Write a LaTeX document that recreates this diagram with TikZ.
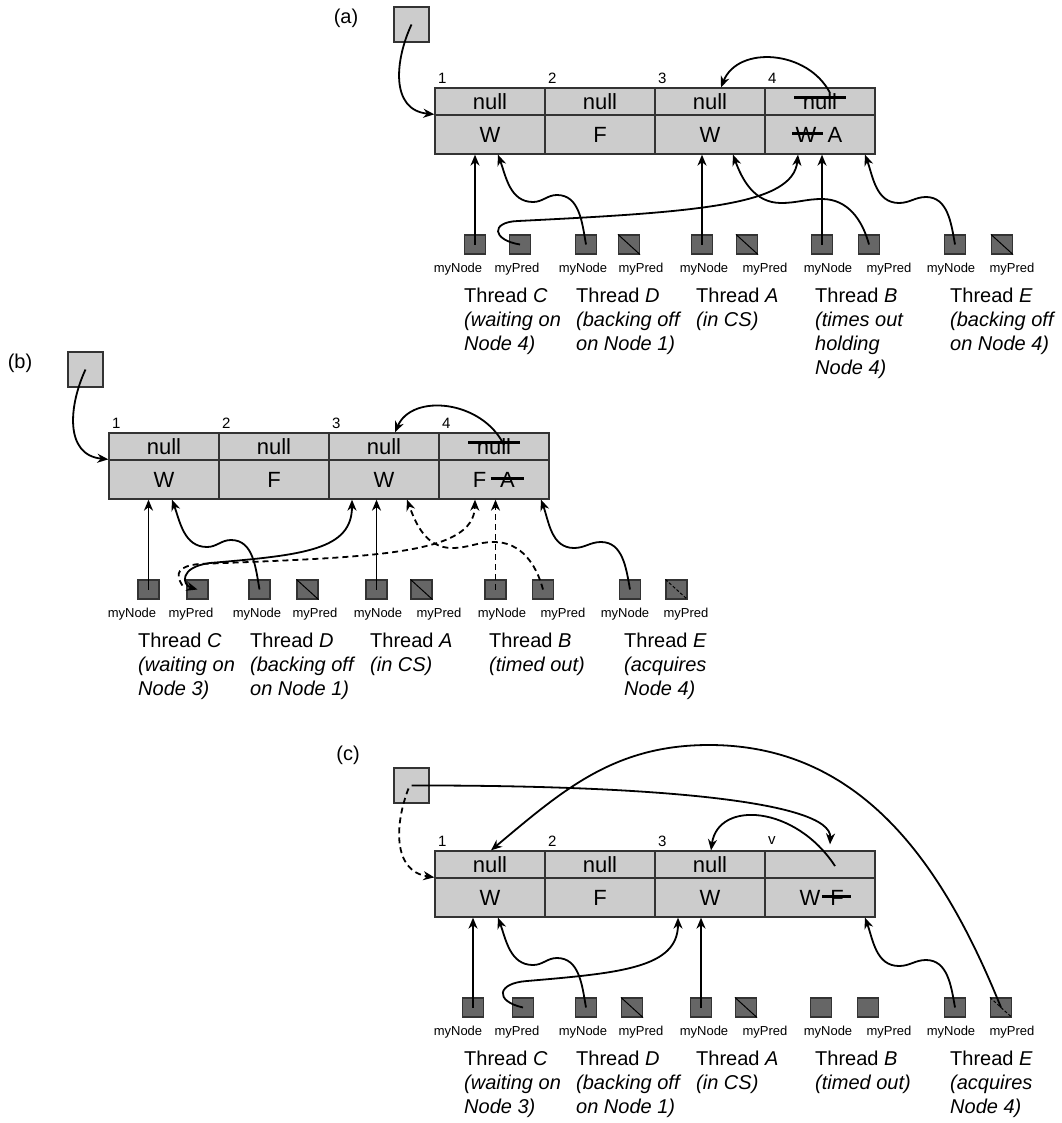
\documentclass[tikz,border=0pt]{standalone}
\usepackage{fontspec}
\setmainfont{Liberation Sans}
\usetikzlibrary{arrows.meta}
\definecolor{cellgray}{HTML}{CCCCCC}
\definecolor{ptrgray}{HTML}{666666}
\definecolor{edgegray}{HTML}{333333}
\begin{document}
\begin{tikzpicture}[x=1pt,y=-1pt,>={Stealth[length=11pt,width=9pt,inset=3.5pt]},
  cell/.style={draw=edgegray,fill=cellgray,line width=1.3pt,minimum width=110pt,inner sep=0pt,font=\fontsize{22}{26}\selectfont},
  celltop/.style={cell,minimum height=27pt},
  cellbot/.style={cell,minimum height=39pt},
  ctext/.style={inner sep=0pt,font=\fontsize{22}{26}\selectfont},
  tailbox/.style={draw=edgegray,fill=cellgray,line width=1.3pt,minimum size=35pt,inner sep=0pt},
  ptr/.style={draw=edgegray,fill=ptrgray,line width=1.1pt,minimum width=21pt,minimum height=19pt,inner sep=0pt},
  idx/.style={anchor=west,inner sep=0pt,font=\fontsize{15}{17}\selectfont},
  fld/.style={inner sep=0pt,font=\fontsize{13}{15}\selectfont},
  thr/.style={anchor=north west,align=left,inner sep=0pt,font=\fontsize{20}{24}\selectfont},
  plbl/.style={inner sep=0pt,font=\fontsize{20}{24}\selectfont},
  link/.style={line width=1.8pt,->},
  dsh/.style={dash pattern=on 6pt off 4pt},
  cross/.style={line width=2.2pt}]
\useasboundingbox (0,0) rectangle (1061,1123);

% (a) B times out
\begin{scope}
\node[plbl] (aL) at (346,18) {(a)};
\node[tailbox] (aT) at (411.5,24.5) {};
\foreach \i/\x/\s in {1/490/W,2/600/F,3/710/W}{
  \node[celltop] (a\i-t) at (\x,101.5) {null};
  \node[cellbot] (a\i-b) at (\x,134.5) {\s};
  \node[idx] (a\i-n) at ({\x-52},78) {\i};
}
\node[celltop] (a4-t) at (820,101.5) {null};
\node[cellbot] (a4-b) at (820,134.5) {};
\node[idx] (a4-n) at (768,78) {4};
\node[ctext] (a4-w) at (806,134.5) {W};
\node[ctext] (a4-s) at (835,134.5) {A};
\draw[cross] ([xshift=-26pt,yshift=4pt]a4-t.center) -- ([xshift=26pt,yshift=4pt]a4-t.center);
\draw[cross] ([xshift=-3pt,yshift=1pt]a4-w.west) -- ([xshift=6pt,yshift=1pt]a4-w.east);
\foreach \n/\x in {Cn/475,Cp/520,Dn/586,Dp/629,An/702,Ap/747,Bn/822,Bp/869,En/955,Ep/1002}
  \node[ptr] (a\n) at (\x,244.5) {};
\foreach \n in {Dp,Ap,Ep}
  \draw[line width=1pt] (a\n.north west) -- (a\n.south east);
\foreach \t/\x in {myNode/458,myPred/517,myNode/583,myPred/641,myNode/704,myPred/765,myNode/828,myPred/889,myNode/951,myPred/1012}
  \node[fld] (a-\t-\x) at (\x,269) {\t};
\node[thr] (aThC) at (464,288) {Thread \textit{C}\\\textit{(waiting on}\\\textit{Node 4)}};
\node[thr] (aThD) at (576,288) {Thread \textit{D}\\\textit{(backing off}\\\textit{on Node 1)}};
\node[thr] (aThA) at (696,288) {Thread \textit{A}\\\textit{(in CS)}};
\node[thr] (aThB) at (815,288) {Thread \textit{B}\\\textit{(times out}\\\textit{holding}\\\textit{Node 4)}};
\node[thr] (aThE) at (950,288) {Thread \textit{E}\\\textit{(backing off}\\\textit{on Node 4)}};
\draw[link] (aT.center) .. controls (395,60) and (390,110) .. (a1-b.north west);
\draw[link] ([xshift=10pt,yshift=8.5pt]a4-t.center) .. controls (808,50) and (738,45) .. ([xshift=11pt]a3-t.north);
\draw[link] (aCn.center) -- (aCn.center |- a1-b.south);
\draw[link] (aDn.center) to[out=100,in=0] (557,195) to[out=180,in=0] (533,202) to[out=180,in=-70] ([xshift=8pt]a1-b.south);
\draw[link] (aCp.center) .. controls (492,240) and (490,222) .. (518,221) .. controls (700,212) and (793,205) .. ([xshift=-22pt]a4-b.south);
\draw[link] (aAn.center) -- (aAn.center |- a3-b.south);
\draw[link] (aBp.center) to[out=105,in=0] (822,199) to[out=180,in=0] (781,203) to[out=180,in=-70] ([xshift=23pt]a3-b.south);
\draw[link] (aBn.center) -- (aBn.center |- a4-b.south);
\draw[link] (aEn.center) to[out=100,in=0] (926,197) to[out=180,in=0] (899,203) to[out=180,in=-70] ([xshift=45pt]a4-b.south);
\end{scope}

% (b) B has timed out
\begin{scope}[shift={(-326,345)}]
\node[plbl] (bL) at (346,18) {(b)};
\node[tailbox] (bT) at (411.5,24.5) {};
\foreach \i/\x/\s in {1/490/W,2/600/F,3/710/W}{
  \node[celltop] (b\i-t) at (\x,101.5) {null};
  \node[cellbot] (b\i-b) at (\x,134.5) {\s};
  \node[idx] (b\i-n) at ({\x-52},78) {\i};
}
\node[celltop] (b4-t) at (820,101.5) {null};
\node[cellbot] (b4-b) at (820,134.5) {};
\node[idx] (b4-n) at (768,78) {4};
\node[ctext] (b4-f) at (805.5,134.5) {F};
\node[ctext] (b4-s) at (833.5,134.5) {A};
\draw[cross] ([xshift=-26pt,yshift=4pt]b4-t.center) -- ([xshift=26pt,yshift=4pt]b4-t.center);
\draw[cross] ([xshift=-9pt,yshift=1pt]b4-s.west) -- ([xshift=9pt,yshift=1pt]b4-s.east);
\foreach \n/\x in {Cn/474.5,Cp/523.5,Dn/585.5,Dp/633.5,An/702.5,Ap/747.5,Bn/821.5,Bp/869,En/956,Ep/1002.5}
  \node[ptr] (b\n) at (\x,244.5) {};
\foreach \n in {Dp,Ap}
  \draw[line width=1pt] (b\n.north west) -- (b\n.south east);
\draw[line width=1pt,dash pattern=on 3pt off 2pt] (bEp.north west) -- (bEp.south east);
\foreach \t/\x in {myNode/458,myPred/517,myNode/583,myPred/641,myNode/704,myPred/765,myNode/828,myPred/889,myNode/951,myPred/1012}
  \node[fld] (b-\t-\x) at (\x,269) {\t};
\node[thr] (bThC) at (464,288) {Thread \textit{C}\\\textit{(waiting on}\\\textit{Node 3)}};
\node[thr] (bThD) at (576,288) {Thread \textit{D}\\\textit{(backing off}\\\textit{on Node 1)}};
\node[thr] (bThA) at (696,288) {Thread \textit{A}\\\textit{(in CS)}};
\node[thr] (bThB) at (815,288) {Thread \textit{B}\\\textit{(timed out)}};
\node[thr] (bThE) at (950,288) {Thread \textit{E}\\\textit{(acquires}\\\textit{Node 4)}};
\draw[link] (bT.center) .. controls (395,60) and (390,110) .. (b1-b.north west);
\draw[link] ([xshift=10pt,yshift=1.5pt]b4-t.center) .. controls (808,55) and (738,48) .. ([xshift=11pt]b3-t.north);
\draw[link] (bCn.center) -- (bCn.center |- b1-b.south);
\draw[link] (bDn.center) to[out=100,in=0] (557,195) to[out=180,in=0] (533,202) to[out=180,in=-70] ([xshift=8pt]b1-b.south);
\draw[line width=1.8pt,<->] (bCp.center) .. controls (508,240) and (505,222) .. (536,218) .. controls (630,210) and (678,205) .. ([xshift=-32pt]b3-b.south);
\draw[link,dsh] ([xshift=-4pt,yshift=4pt]bCp.west) .. controls (500,228) and (505,221) .. (525,219) .. controls (700,212) and (800,210) .. ([xshift=-19pt]b4-b.south);
\draw[link] (bAn.center) -- (bAn.center |- b3-b.south);
\draw[link,dsh] (bBp.center) to[out=105,in=0] (820,197) to[out=180,in=0] (778,203) to[out=180,in=-70] ([xshift=23pt]b3-b.south);
\draw[link,dsh] (bBn.center) -- (bBn.center |- b4-b.south);
\draw[link] (bEn.center) to[out=100,in=0] (927,197) to[out=180,in=0] (900,203) to[out=180,in=-70] ([xshift=47pt]b4-b.south);
\end{scope}

% (c) E acquires Node 4
\begin{scope}[shift={(0,763)}]
\node[plbl] (cL) at (348,-8) {(c)};
\node[tailbox] (cT) at (411.5,22.5) {};
\foreach \i/\x/\s in {1/490/W,2/600/F,3/710/W}{
  \node[celltop] (c\i-t) at (\x,101.5) {null};
  \node[cellbot] (c\i-b) at (\x,134.5) {\s};
  \node[idx] (c\i-n) at ({\x-52},78) {\i};
}
\node[celltop] (c4-t) at (820,101.5) {};
\node[cellbot] (c4-b) at (820,134.5) {};
\node[idx] (c4-n) at (768,78) {v};
\node[ctext] (c4-w) at (810,134.5) {W};
\node[ctext] (c4-f) at (837,134.5) {F};
\draw[cross] ([xshift=-8pt,yshift=1pt]c4-f.west) -- ([xshift=7pt,yshift=1pt]c4-f.east);
\foreach \n/\x in {Cn/473,Cp/523,Dn/586,Dp/632,An/701,Ap/746,Bn/821,Bp/868,En/955,Ep/1001}
  \node[ptr] (c\n) at (\x,244.5) {};
\foreach \n in {Dp,Ap}
  \draw[line width=1pt] (c\n.north west) -- (c\n.south east);
\draw[line width=1pt,dash pattern=on 3pt off 2pt] (cEp.north west) -- (cEp.south east);
\foreach \t/\x in {myNode/458,myPred/517,myNode/583,myPred/641,myNode/704,myPred/765,myNode/828,myPred/889,myNode/951,myPred/1012}
  \node[fld] (c-\t-\x) at (\x,269) {\t};
\node[thr] (cThC) at (464,288) {Thread \textit{C}\\\textit{(waiting on}\\\textit{Node 3)}};
\node[thr] (cThD) at (576,288) {Thread \textit{D}\\\textit{(backing off}\\\textit{on Node 1)}};
\node[thr] (cThA) at (696,288) {Thread \textit{A}\\\textit{(in CS)}};
\node[thr] (cThB) at (815,288) {Thread \textit{B}\\\textit{(timed out)}};
\node[thr] (cThE) at (950,288) {Thread \textit{E}\\\textit{(acquires}\\\textit{Node 4)}};
\draw[link,dsh] ([xshift=-3pt,yshift=-3pt]cT.center) .. controls (395,60) and (392,108) .. (c1-b.north west);
\draw[link] (cT.center) .. controls (650,22) and (832,38) .. ([xshift=10pt,yshift=6pt]c4-t.north);
\draw[link] ([xshift=15pt,yshift=-1.5pt]c4-t.center) .. controls (795,42) and (718,37) .. ([xshift=1pt]c3-t.north);
\draw[link] (cEp.center) to[out=112,in=0] (709,-18) to[out=180,in=40] ([xshift=1pt]c1-t.north);
\draw[link] (cCn.center) -- (cCn.center |- c1-b.south);
\draw[link] (cDn.center) to[out=100,in=0] (557,195) to[out=180,in=0] (533,202) to[out=180,in=-70] ([xshift=8pt]c1-b.south);
\draw[link] (cCp.center) .. controls (494,238) and (497,220) .. (527,218) .. controls (620,210) and (678,205) .. ([xshift=-32pt]c3-b.south);
\draw[link] (cAn.center) -- (cAn.center |- c3-b.south);
\draw[link] (cEn.center) to[out=100,in=0] (926,197) to[out=180,in=0] (899,203) to[out=180,in=-70] ([xshift=45pt]c4-b.south);
\end{scope}
\end{tikzpicture}
\end{document}
